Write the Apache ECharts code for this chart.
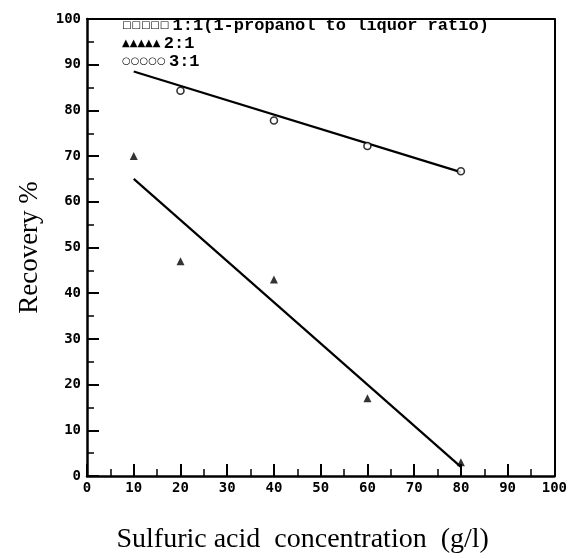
<!DOCTYPE html>
<html>
<head>
<meta charset="utf-8">
<script src="https://cdn.jsdelivr.net/npm/echarts@6/dist/echarts.min.js"></script>
<style>
html,body{margin:0;padding:0;background:#fff;}
#chart{width:570px;height:559px;}
</style>
</head>
<body>
<div id="chart"></div>
<script>
// ---- data ----
var xTicks = [0, 10, 20, 30, 40, 50, 60, 70, 80, 90, 100];
var yTicks = [0, 10, 20, 30, 40, 50, 60, 70, 80, 90, 100];
var seriesNames = ['1:1(1-propanol to liquor ratio)', '2:1', '3:1'];
var legendGlyphs = ['\u25A1\u25A1\u25A1\u25A1\u25A1', '\u25B2\u25B2\u25B2\u25B2\u25B2', '\u25CB\u25CB\u25CB\u25CB\u25CB'];
var acid = [10, 20, 40, 60, 80];
var ratio11 = [];
var ratio21 = [70, 47, 43, 17, 3];
var ratio31x = [20, 40, 60, 80];
var ratio31 = [84.3, 77.8, 72.2, 66.7];
var fit21x = [10, 80];
var fit21 = [65, 2];
var fit31x = [10, 80];
var fit31 = [88.5, 66.5];

function pairs(xs, ys) { return xs.map(function (x, i) { return [x, ys[i]]; }); }

var chart = echarts.init(document.getElementById('chart'), null, {renderer: 'canvas'});
var tickFont = {fontFamily: 'DejaVu Sans Mono', fontWeight: 'bold', fontSize: 14, color: '#000'};
var glyphMap = {};
seriesNames.forEach(function (n, i) { glyphMap[n] = legendGlyphs[i]; });

var option = {
  animation: false,
  backgroundColor: '#fff',
  grid: {left: 87, right: 15, top: 19, bottom: 74, containLabel: false},
  legend: {
    orient: 'vertical', left: 112, top: 12, itemWidth: 0, itemHeight: 0, itemGap: 1,
    icon: 'none', data: seriesNames, selectedMode: false,
    formatter: function (name) { return '{s|' + glyphMap[name] + '} {t|' + name + '}'; },
    textStyle: {
      color: '#000',
      rich: {
        s: {fontFamily: 'DejaVu Sans', fontWeight: 'bold', fontSize: 10, color: '#000'},
        t: {fontFamily: 'Liberation Mono', fontWeight: 'bold', fontSize: 17, color: '#000'}
      }
    }
  },
  xAxis: [{
    type: 'value', min: 0, max: 100, interval: 10, position: 'bottom',
    name: 'Sulfuric acid  concentration  (g/l)', nameLocation: 'middle', nameGap: 50,
    nameTextStyle: {fontFamily: 'Liberation Serif', fontSize: 28, color: '#000', padding: [0, 36, 0, 0]},
    axisLine: {show: true, lineStyle: {color: '#000', width: 2.5}},
    axisTick: {show: true, inside: true, length: 12, lineStyle: {color: '#000', width: 2}},
    minorTick: {show: true, splitNumber: 2, length: 7, lineStyle: {color: '#000', width: 1.5}},
    axisLabel: Object.assign({margin: 5, formatter: function (v) { return xTicks.indexOf(v) >= 0 ? String(v) : ''; }}, tickFont),
    splitLine: {show: false}
  }, {
    type: 'value', min: 0, max: 100, interval: 10, position: 'top',
    axisLine: {show: true, onZero: false, lineStyle: {color: '#000', width: 2}},
    axisTick: {show: false}, axisLabel: {show: false}, splitLine: {show: false}
  }],
  yAxis: [{
    type: 'value', min: 0, max: 100, interval: 10, position: 'left',
    name: 'Recovery %', nameLocation: 'middle', nameGap: 44, nameRotate: 90,
    nameTextStyle: {fontFamily: 'Liberation Serif', fontSize: 27, color: '#000'},
    axisLine: {show: true, lineStyle: {color: '#000', width: 2.5}},
    axisTick: {show: true, inside: true, length: 12, lineStyle: {color: '#000', width: 2}},
    minorTick: {show: true, splitNumber: 2, length: 7, lineStyle: {color: '#000', width: 1.5}},
    axisLabel: Object.assign({margin: 6, formatter: function (v) { return yTicks.indexOf(v) >= 0 ? String(v) : ''; }}, tickFont),
    splitLine: {show: false}
  }, {
    type: 'value', min: 0, max: 100, interval: 10, position: 'right',
    axisLine: {show: true, onZero: false, lineStyle: {color: '#000', width: 2}},
    axisTick: {show: false}, axisLabel: {show: false}, splitLine: {show: false}
  }],
  series: [
    {name: seriesNames[0], type: 'scatter', data: ratio11, symbol: 'rect', symbolSize: 7,
     itemStyle: {color: '#fff', borderColor: '#000', borderWidth: 1.5}},
    {name: seriesNames[1], type: 'scatter', data: pairs(acid, ratio21), symbol: 'triangle', symbolSize: 8,
     itemStyle: {color: '#000'}, z: 5},
    {name: seriesNames[2], type: 'scatter', data: pairs(ratio31x, ratio31), symbol: 'circle', symbolSize: 7,
     itemStyle: {color: '#fff', borderColor: '#000', borderWidth: 1.6}, z: 5},
    {name: 'fit21', type: 'line', data: pairs(fit21x, fit21), symbol: 'none',
     lineStyle: {color: '#000', width: 2.2}},
    {name: 'fit31', type: 'line', data: pairs(fit31x, fit31), symbol: 'none',
     lineStyle: {color: '#000', width: 2.2}}
  ]
};
chart.setOption(option);
</script>
</body>
</html>
